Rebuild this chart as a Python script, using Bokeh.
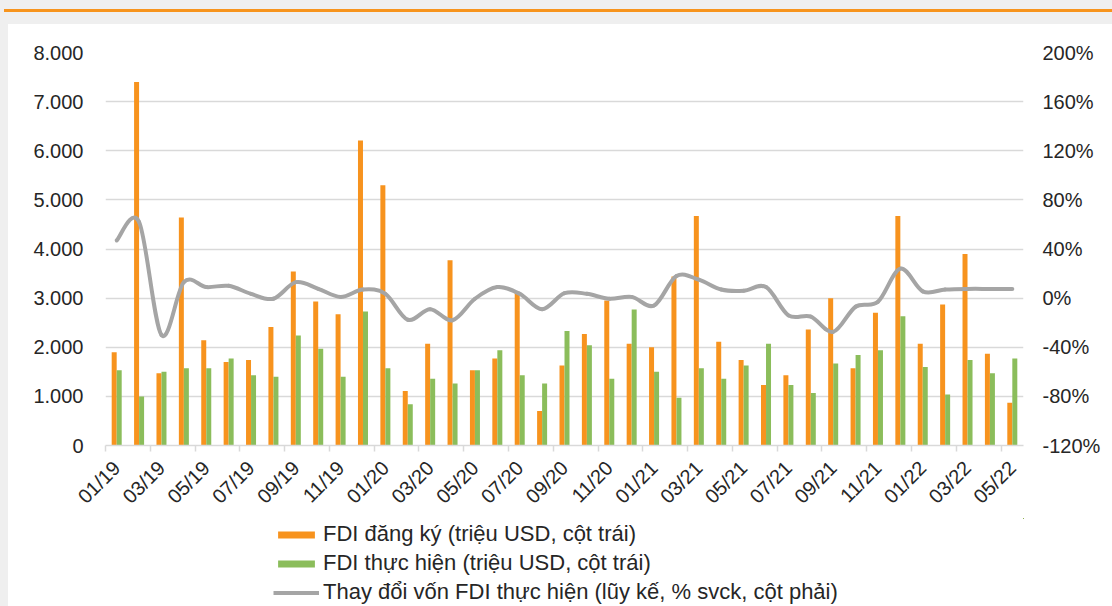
import numpy as np
from math import pi
from bokeh.plotting import figure
from bokeh.models import (Range1d, LinearAxis, FixedTicker, Legend, LegendItem,
                          Div, ColumnDataSource)
from bokeh.layouts import column, row
from bokeh.transform import dodge
from bokeh.embed import file_html
from bokeh.resources import INLINE

# ---------------- data ----------------
months = ["01/19", "02/19", "03/19", "04/19", "05/19", "06/19", "07/19", "08/19", "09/19", "10/19",
          "11/19", "12/19", "01/20", "02/20", "03/20", "04/20", "05/20", "06/20", "07/20", "08/20",
          "09/20", "10/20", "11/20", "12/20", "01/21", "02/21", "03/21", "04/21", "05/21", "06/21",
          "07/21", "08/21", "09/21", "10/21", "11/21", "12/21", "01/22", "02/22", "03/22", "04/22",
          "05/22"]
registered = [1900, 7400, 1470, 4640, 2140, 1700, 1740, 2410, 3540, 2930,
              2670, 6210, 5300, 1110, 2070, 3770, 1530, 1770, 3130, 700,
              1630, 2270, 2950, 2070, 2000, 3440, 4670, 2110, 1740, 1230,
              1430, 2360, 3000, 1570, 2700, 4670, 2070, 2870, 3900, 1870, 870]
disbursed = [1530, 1000, 1500, 1570, 1570, 1770, 1430, 1400, 2240, 1970,
             1400, 2730, 1570, 840, 1360, 1260, 1530, 1940, 1430, 1260,
             2330, 2040, 1360, 2770, 1500, 970, 1570, 1360, 1630, 2070,
             1230, 1070, 1670, 1840, 1940, 2630, 1600, 1040, 1740, 1470, 1770]
change = [47, 62, -30, 13, 9, 10, 3.5, -0.5, 13, 7.6,
          1, 7, 3.5, -17.6, -9, -18, -0.5, 9, 3.5, -9,
          4, 3.5, -0.5, 1, -6, 18, 15, 7, 6, 9,
          -14, -15, -27.5, -7, -3, 24, 5.5, 7, 7.5, 7.5, 7.5]

left_ticks = [0, 1000, 2000, 3000, 4000, 5000, 6000, 7000, 8000]
left_labels = ["0", "1.000", "2.000", "3.000", "4.000", "5.000", "6.000", "7.000", "8.000"]
right_ticks = [-120, -80, -40, 0, 40, 80, 120, 160, 200]
right_labels = ["-120%", "-80%", "-40%", "0%", "40%", "80%", "120%", "160%", "200%"]

legend_labels = ["FDI đăng ký (triệu USD, cột trái)",
                 "FDI thực hiện (triệu USD, cột trái)",
                 "Thay đổi vốn FDI thực hiện (lũy kế, % svck, cột phải)"]

# ---------------- style ----------------
FONT = "Liberation Sans"
TXT = "#262626"
ORANGE = "#F7931E"
GREEN = "#8BBD5B"
GRAY = "#A5A5A5"
GRID = "#D9D9D9"
PAGE_BG = "#EFEFEF"

n = len(months)
idx = list(range(n))
src = ColumnDataSource(dict(x=idx, reg=registered, dis=disbursed, chg=change))

p = figure(width=1104, height=494, output_backend="svg", toolbar_location=None,
           x_range=Range1d(-0.5, n - 0.5), y_range=Range1d(0, 8000),
           min_border_left=97, min_border_right=89, min_border_top=28,
           min_border_bottom=70)
p.outline_line_color = None
p.background_fill_color = "white"
p.border_fill_color = "white"
p.extra_y_ranges = {"right": Range1d(-120, 200)}

# bars
r_reg = p.vbar(x=dodge("x", -0.112, range=p.x_range), top="reg", width=0.223,
               source=src, fill_color=ORANGE, line_color=None)
r_dis = p.vbar(x=dodge("x", 0.112, range=p.x_range), top="dis", width=0.223,
               source=src, fill_color=GREEN, line_color=None)

# smoothed line (Catmull-Rom -> cubic Bezier segments through the data points)
xs = np.array(idx, dtype=float)
ys = np.array(change, dtype=float)
x0, y0, x1, y1, cx0, cy0, cx1, cy1 = ([] for _ in range(8))
for i in range(n - 1):
    i0 = max(i - 1, 0)
    i3 = min(i + 2, n - 1)
    x0.append(xs[i]); y0.append(ys[i])
    x1.append(xs[i + 1]); y1.append(ys[i + 1])
    cx0.append(xs[i] + (xs[i + 1] - xs[i0]) / 6.0)
    cy0.append(ys[i] + (ys[i + 1] - ys[i0]) / 6.0)
    cx1.append(xs[i + 1] - (xs[i3] - xs[i]) / 6.0)
    cy1.append(ys[i + 1] - (ys[i3] - ys[i]) / 6.0)
bsrc = ColumnDataSource(dict(x0=x0, y0=y0, x1=x1, y1=y1, cx0=cx0, cy0=cy0, cx1=cx1, cy1=cy1))
r_chg = p.bezier(x0="x0", y0="y0", x1="x1", y1="y1", cx0="cx0", cy0="cy0",
                 cx1="cx1", cy1="cy1", source=bsrc, y_range_name="right",
                 line_color=GRAY, line_width=4, line_cap="round")

# grid
p.xgrid.grid_line_color = None
p.ygrid.ticker = FixedTicker(ticks=left_ticks)
p.ygrid.grid_line_color = GRID
p.ygrid.grid_line_width = 1.5

# left axis
ya = p.yaxis[0]
ya.ticker = FixedTicker(ticks=left_ticks)
ya.major_label_overrides = {t: l for t, l in zip(left_ticks, left_labels)}
ya.axis_line_color = None
ya.major_tick_line_color = None
ya.minor_tick_line_color = None
ya.major_tick_out = 0
ya.major_tick_in = 0
ya.major_label_standoff = 22
ya.major_label_text_font = FONT
ya.major_label_text_font_size = "20px"
ya.major_label_text_color = TXT

# right axis
ra = LinearAxis(y_range_name="right", ticker=FixedTicker(ticks=right_ticks))
ra.major_label_overrides = {t: l for t, l in zip(right_ticks, right_labels)}
ra.axis_line_color = None
ra.major_tick_line_color = None
ra.minor_tick_line_color = None
ra.major_tick_out = 0
ra.major_tick_in = 0
ra.major_label_standoff = 19
ra.major_label_text_font = FONT
ra.major_label_text_font_size = "20px"
ra.major_label_text_color = TXT
p.add_layout(ra, "right")

# bottom axis
xa = p.xaxis[0]
label_pos = idx[::2]
xa.ticker = FixedTicker(ticks=label_pos, minor_ticks=[i - 0.5 for i in label_pos])
xa.major_label_overrides = {i: months[i] for i in label_pos}
xa.major_label_orientation = pi / 4
xa.axis_line_color = GRID
xa.axis_line_width = 1.5
xa.major_tick_out = 0
xa.major_tick_in = 0
xa.major_tick_line_color = None
xa.minor_tick_out = 6
xa.minor_tick_in = 0
xa.minor_tick_line_color = GRID
xa.minor_tick_line_width = 1.5
xa.major_label_standoff = 13
xa.major_label_text_font = FONT
xa.major_label_text_font_size = "20px"
xa.major_label_text_color = TXT

# legend strip under the chart (its glyphs use the same data, kept out of view)
lg = figure(width=1104, height=88, output_backend="svg", toolbar_location=None,
            x_range=Range1d(-1000, -999), y_range=Range1d(-1000, -999), min_border=0)
lg.axis.visible = False
lg.grid.grid_line_color = None
lg.outline_line_color = None
lg.border_fill_color = "white"
lg.background_fill_color = "white"
lg_reg = lg.vbar(x="x", top="reg", width=0.2, source=src, fill_color=ORANGE, line_color=None)
lg_dis = lg.vbar(x="x", top="dis", width=0.2, source=src, fill_color=GREEN, line_color=None)
lg_chg = lg.line(x="x", y="chg", source=src, line_color=GRAY, line_width=4)
legend = Legend(items=[LegendItem(label=legend_labels[0], renderers=[lg_reg]),
                       LegendItem(label=legend_labels[1], renderers=[lg_dis]),
                       LegendItem(label=legend_labels[2], renderers=[lg_chg])],
                location=(168, 1), orientation="vertical",
                glyph_width=46, glyph_height=9, label_standoff=4, spacing=3,
                label_height=24, padding=0, margin=0,
                border_line_alpha=0, background_fill_alpha=0,
                label_text_font=FONT, label_text_font_size="22px",
                label_text_color=TXT)
lg.add_layout(legend, "center")

header = Div(text='<div style="margin-top:9px;height:3px;background:#F7941D;width:1108px;margin-left:4px"></div>',
             width=1112, height=24, margin=0,
             styles={"background-color": PAGE_BG})
side = Div(text="", width=8, height=582, margin=0, styles={"background-color": PAGE_BG})

layout = column(header, row(side, column(p, lg, spacing=0), spacing=0), spacing=0)
open("out.html", "w").write(file_html(layout, INLINE))
